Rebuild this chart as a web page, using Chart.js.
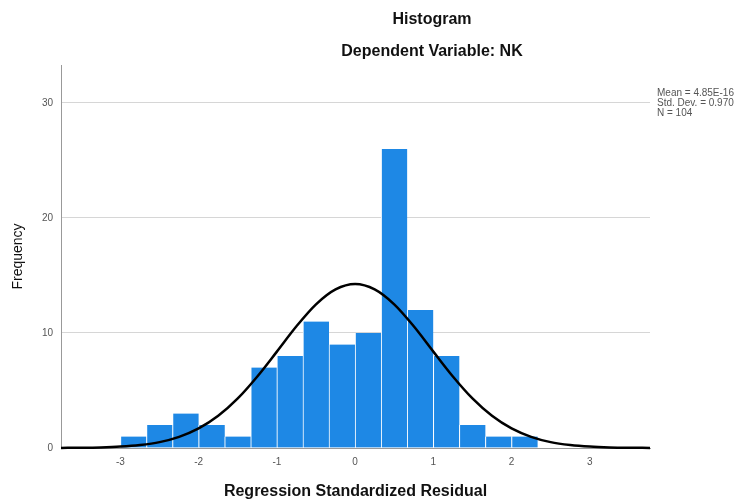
<!DOCTYPE html>
<html>
<head>
<meta charset="utf-8">
<title>Histogram</title>
<script src="https://cdn.jsdelivr.net/npm/chart.js@4.4.1/dist/chart.umd.min.js"></script>
<style>
  html, body { margin: 0; padding: 0; background: #fff; }
  #wrap { position: relative; width: 744px; height: 504px; }
</style>
</head>
<body>
<div id="wrap"><canvas id="chart"></canvas></div>
<script>
// histogram bins (centres of 1/3-wide bins, -3 .. 2.333)
const binCentres = [-2.833, -2.5, -2.167, -1.833, -1.5, -1.167, -0.833, -0.5,
  -0.167, 0.167, 0.5, 0.833, 1.167, 1.5, 1.833, 2.167];
const frequencies = [1, 2, 3, 2, 1, 7, 8, 11, 9, 10, 26, 12, 8, 2, 1, 1];

// normal curve
const curveX = [-3.76, -3.5, -3.25, -3, -2.75, -2.5, -2.25, -2, -1.75, -1.5, -1.25, -1,
  -0.75, -0.5, -0.25, 0, 0.25, 0.5, 0.75, 1, 1.25, 1.5, 1.75, 2, 2.25, 2.5, 2.75,
  3, 3.25, 3.5, 3.77];
const curveY = [0.01, 0.02, 0.05, 0.12, 0.26, 0.51, 0.97, 1.7, 2.8, 4.31, 6.22, 8.38,
  10.58, 12.49, 13.79, 14.26, 13.79, 12.49, 10.58, 8.38, 6.22, 4.31, 2.8, 1.7, 0.97,
  0.51, 0.26, 0.12, 0.05, 0.02, 0.01];

const xTicks = [-3, -2, -1, 0, 1, 2, 3];
const yTicks = [0, 10, 20, 30];

const titleLines = ['Histogram', 'Dependent Variable: NK'];
const statsLines = ['Mean = 4.85E-16', 'Std. Dev. = 0.970', 'N = 104'];

Chart.defaults.font.family = '"Liberation Sans", Arial, sans-serif';

const textPlugin = {
  id: 'spssText',
  afterDraw(chart) {
    const ctx = chart.ctx;
    ctx.save();
    ctx.fillStyle = '#111';
    ctx.textAlign = 'center';
    ctx.textBaseline = 'middle';
    ctx.font = 'bold 16px "Liberation Sans", Arial, sans-serif';
    ctx.fillText(titleLines[0], 432, 20);
    ctx.fillText(titleLines[1], 432, 52);

    ctx.fillStyle = '#555';
    ctx.textAlign = 'left';
    ctx.font = '10px "Liberation Sans", Arial, sans-serif';
    statsLines.forEach((t, i) => ctx.fillText(t, 657, 93 + i * 10));
    ctx.restore();
  }
};

new Chart(document.getElementById('chart'), {
  type: 'bar',
  data: {
    datasets: [
      {
        type: 'line',
        data: curveX.map((x, i) => ({ x, y: curveY[i] })),
        borderColor: '#000',
        borderWidth: 2.5,
        pointRadius: 0,
        cubicInterpolationMode: 'monotone',
        fill: false,
        clip: 4,
        order: 0,
      },
      {
        type: 'bar',
        data: binCentres.map((x, i) => ({ x, y: frequencies[i] })),
        backgroundColor: '#1e88e5',
        borderColor: '#ffffff',
        borderWidth: { left: 1, right: 0, top: 0, bottom: 0 },
        borderSkipped: false,
        barPercentage: 1,
        categoryPercentage: 1,
        order: 1,
      },
    ],
  },
  options: {
    responsive: true,
    maintainAspectRatio: false,
    animation: false,
    layout: { padding: { top: 65, right: 94, left: 0, bottom: 0 } },
    plugins: {
      legend: { display: false },
      tooltip: { enabled: false },
    },
    scales: {
      x: {
        type: 'linear',
        offset: false,
        min: -3.76,
        max: 3.77,
        afterFit: (s) => { s.height = 56; },
        afterBuildTicks: (s) => { s.ticks = xTicks.map((v) => ({ value: v })); },
        grid: { display: false, drawTicks: false, offset: false },
        border: { color: '#999', width: 1 },
        ticks: { color: '#555', font: { size: 10 }, padding: 8 },
        title: {
          display: true,
          text: 'Regression Standardized Residual',
          color: '#111',
          font: { size: 16, weight: 'bold' },
          padding: { top: 0, bottom: 3 },
        },
      },
      y: {
        min: 0,
        max: 33.3,
        afterFit: (s) => { s.width = 61; },
        afterBuildTicks: (s) => { s.ticks = yTicks.map((v) => ({ value: v })); },
        grid: { color: '#d6d6d6', drawTicks: false },
        border: { color: '#999', width: 1 },
        ticks: { color: '#555', font: { size: 10 }, padding: 8 },
        title: {
          display: true,
          text: 'Frequency',
          color: '#111',
          font: { size: 14 },
          padding: { top: 10, bottom: 0 },
        },
      },
    },
  },
  plugins: [textPlugin],
});
</script>
</body>
</html>
